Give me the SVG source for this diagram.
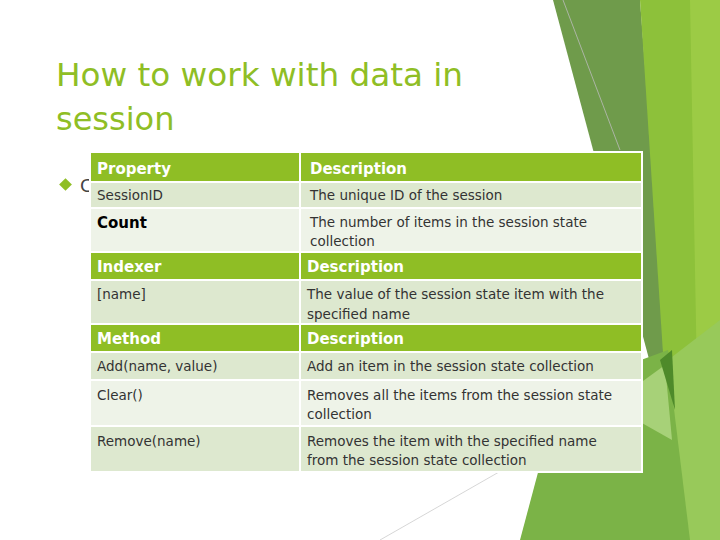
<svg xmlns="http://www.w3.org/2000/svg" width="720" height="540" viewBox="0 0 720 540">
<style>
.h{fill:#8fbe25}.a{fill:#dde8cf}.b{fill:#eef3e8}
.ht{font-family:"DejaVu Sans",sans-serif;font-size:15px;font-weight:bold;fill:#fff}
.t{font-family:"DejaVu Sans",sans-serif;font-size:13.5px;fill:#333}
</style>
<rect width="720" height="540" fill="#fff"/>
<g id="background">
<polygon points="553,0 640,0 672,420 668,430" fill="#6f9b4b"/>
<polygon points="640,0 720,0 720,540 690,540 668,430" fill="#8dc13a"/>
<polygon points="690,0 720,0 720,540 700,540" fill="#9ccb45"/>
<polygon points="560,390 668,350 700,540 520,540" fill="#7bb347"/>
<polygon points="668,360 720,320 720,540 690,540" fill="#98c95a"/>
<polygon points="610,405 665,365 672,440" fill="#b3d884" opacity="0.8"/>
<polygon points="660,360 672,350 675,410" fill="#4e8a2a"/>
<line x1="563" y1="0" x2="620" y2="150" stroke="#bbb" stroke-width="0.8"/>
<line x1="380" y1="540" x2="520" y2="460" stroke="#ccc" stroke-width="0.8"/>
</g>
<g id="title">
<text x="56" y="86" font-family="DejaVu Sans,sans-serif" font-size="32" fill="#8fbe25" textLength="407" lengthAdjust="spacingAndGlyphs">How to work with data in</text>
<text x="56" y="130" font-family="DejaVu Sans,sans-serif" font-size="32" fill="#8fbe25">session</text>
</g>
<g id="bullet">
<rect x="61" y="180" width="9" height="9" fill="#8fbe25" transform="rotate(45 65.5 184.5)"/>
<text x="80" y="192" font-family="DejaVu Sans,sans-serif" font-size="18" fill="#444">C</text>
</g>
<g id="table">
<rect x="89" y="151" width="554" height="322" fill="#fff"/>
<rect class="h" x="91" y="153" width="208" height="28"/><rect class="h" x="301" y="153" width="340" height="28"/>
<rect class="a" x="91" y="183" width="208" height="24"/><rect class="a" x="301" y="183" width="340" height="24"/>
<rect class="b" x="91" y="209" width="208" height="42"/><rect class="b" x="301" y="209" width="340" height="42"/>
<rect class="h" x="91" y="253" width="208" height="26"/><rect class="h" x="301" y="253" width="340" height="26"/>
<rect class="a" x="91" y="281" width="208" height="42"/><rect class="a" x="301" y="281" width="340" height="42"/>
<rect class="h" x="91" y="325" width="208" height="26"/><rect class="h" x="301" y="325" width="340" height="26"/>
<rect class="a" x="91" y="353" width="208" height="26"/><rect class="a" x="301" y="353" width="340" height="26"/>
<rect class="b" x="91" y="381" width="208" height="44"/><rect class="b" x="301" y="381" width="340" height="44"/>
<rect class="a" x="91" y="427" width="208" height="44"/><rect class="a" x="301" y="427" width="340" height="44"/>
<text class="ht" x="97" y="174">Property</text><text class="ht" x="310" y="174">Description</text>
<text class="t" x="97" y="200">SessionID</text><text class="t" x="310" y="200">The unique ID of the session</text>
<text x="97" y="228" font-family="DejaVu Sans,sans-serif" font-size="15" font-weight="bold" fill="#000">Count</text>
<text class="t" x="310" y="227">The number of items in the session state</text>
<text class="t" x="310" y="246">collection</text>
<text class="ht" x="97" y="272">Indexer</text><text class="ht" x="307" y="272">Description</text>
<text class="t" x="97" y="299">[name]</text>
<text class="t" x="307" y="299">The value of the session state item with the</text>
<text class="t" x="307" y="319">specified name</text>
<text class="ht" x="97" y="344">Method</text><text class="ht" x="307" y="344">Description</text>
<text class="t" x="97" y="371">Add(name, value)</text><text class="t" x="307" y="371">Add an item in the session state collection</text>
<text class="t" x="97" y="400">Clear()</text><text class="t" x="307" y="400">Removes all the items from the session state</text>
<text class="t" x="307" y="419">collection</text>
<text class="t" x="97" y="446">Remove(name)</text><text class="t" x="307" y="446">Removes the item with the specified name</text>
<text class="t" x="307" y="465">from the session state collection</text>
</g>
</svg>
